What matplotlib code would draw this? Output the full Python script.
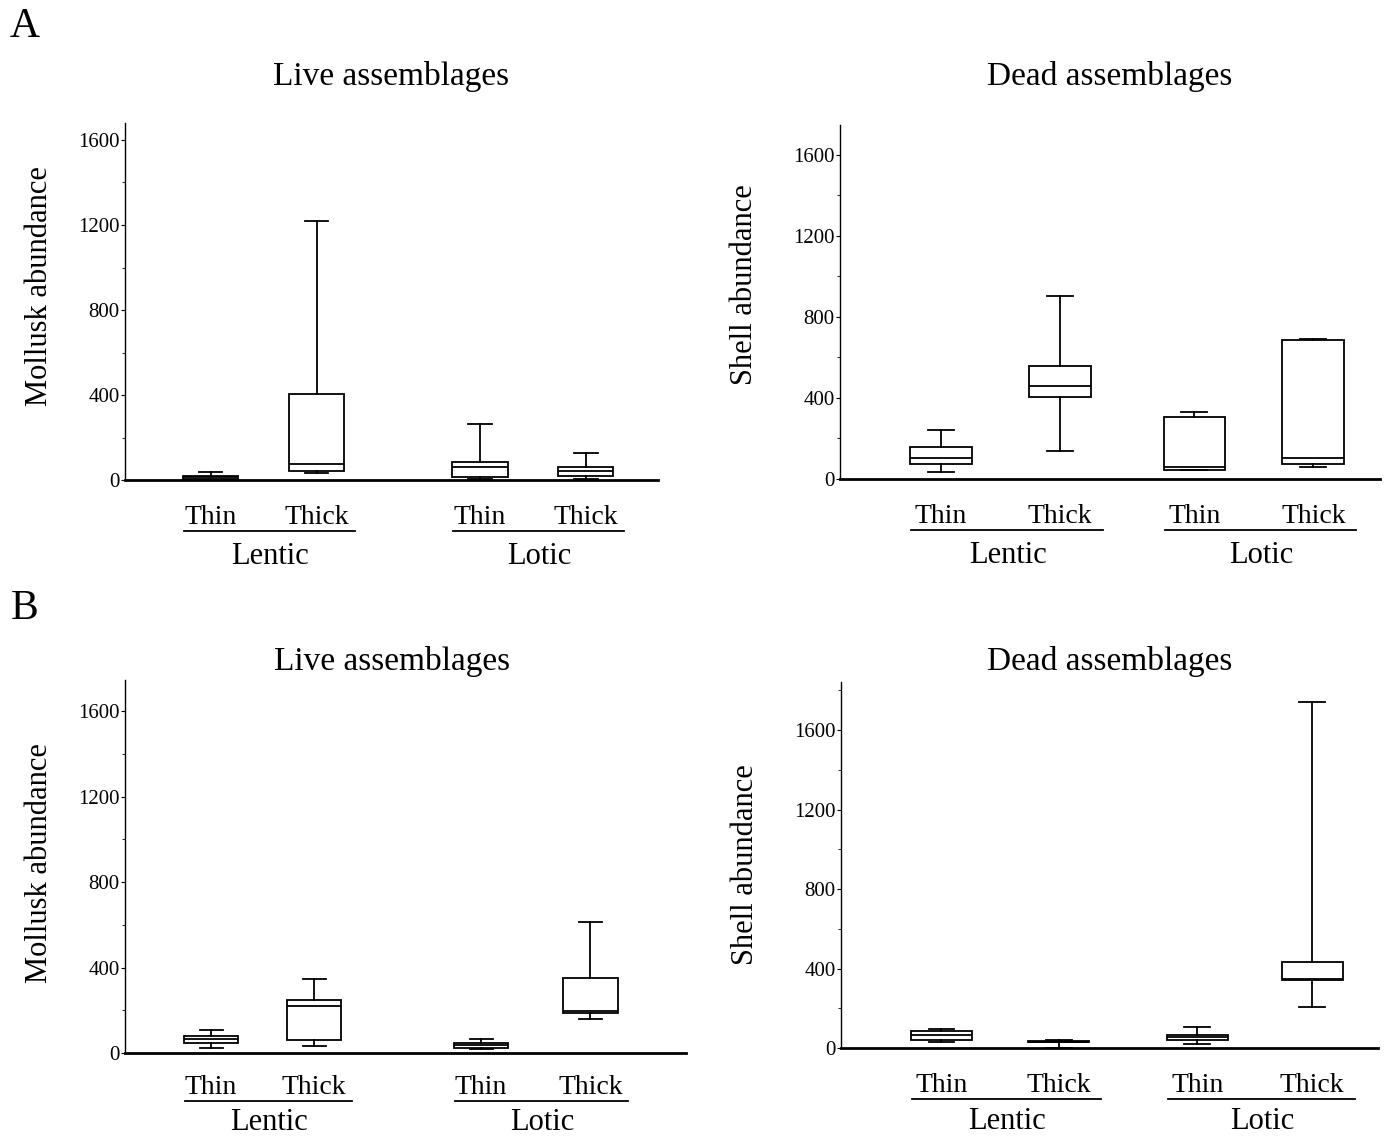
import matplotlib
matplotlib.use('Agg')
import matplotlib.pyplot as plt
from matplotlib.ticker import MultipleLocator
from matplotlib.transforms import ScaledTranslation

plt.rcParams['font.family'] = ['Liberation Serif', 'DejaVu Serif']

# box stats per group: (whisker low, q1, median, q3, whisker high)
groups = ['Thin', 'Thick', 'Thin', 'Thick']
habitats = ['Lentic', 'Lotic']

live_A = [(2, 6, 12, 20, 38), (31, 41, 75, 405, 1219), (7, 12, 60, 85, 264), (7, 21, 42, 60, 129)]
dead_A = [(36, 74, 105, 160, 242), (140, 407, 459, 558, 904), (44, 46, 58, 308, 330), (59, 74, 102, 686, 690)]
live_B = [(25, 45, 64, 80, 108), (31, 61, 219, 250, 347), (17, 25, 38, 47, 64), (157, 188, 197, 349, 614)]
dead_B = [(30, 42, 67, 85, 95), (2, 28, 32, 36, 38), (20, 42, 53, 63, 107), (206, 340, 345, 432, 1742)]

W, H = 1392, 1140
fig = plt.figure(figsize=(W / 100, H / 100), dpi=100)


def add_axes(x0, y0, x1, y1):
    # pixel box -> figure fraction
    return fig.add_axes([x0 / W, 1 - y1 / H, (x1 - x0) / W, (y1 - y0) / H])


# data, title, ylabel, pixel box, positions, xlim, ytop, title (x, y), ylabel coords, label offsets (pt)
panels = [
    (live_A, 'Live assemblages', 'Mollusk abundance', (125, 123, 658, 480),
     [1, 2, 3.54, 4.54], (0.19, 5.22), 1680, (0.5, 1.106), (-0.16, 0.543), (-27, -55)),
    (dead_A, 'Dead assemblages', 'Shell abundance', (840, 125, 1380, 479),
     [1, 2, 3.13, 4.13], (0.15, 4.69), 1748, (0.5, 1.113), (-0.176, 0.548), (-27, -55)),
    (live_B, 'Live assemblages', 'Mollusk abundance', (125, 680, 686, 1053),
     [1, 1.98, 3.57, 4.61], (0.18, 5.52), 1747, (0.476, 1.027), (-0.152, 0.509), (-25, -50)),
    (dead_B, 'Dead assemblages', 'Shell abundance', (841, 682, 1378, 1048),
     [1, 2, 3.18, 4.16], (0.145, 4.72), 1842, (0.5, 1.032), (-0.178, 0.50), (-27, -53)),
]

line = dict(color='black', linewidth=1.3)

for data, title, ylab, box, pos, xlim, ytop, txy, ylxy, offs in panels:
    ax = add_axes(*box)
    stats = [dict(whislo=d[0], q1=d[1], med=d[2], q3=d[3], whishi=d[4], fliers=[])
             for d in data]
    w = 0.52
    ax.bxp(stats, positions=pos, widths=w, capwidths=w * 0.42, showfliers=False,
           patch_artist=True,
           boxprops=dict(facecolor='white', edgecolor='black', linewidth=1.3),
           medianprops=line, whiskerprops=line, capprops=line)

    ax.set_xlim(*xlim)
    ax.set_ylim(0, ytop)
    ax.spines['top'].set_visible(False)
    ax.spines['right'].set_visible(False)
    ax.spines['left'].set_linewidth(1.0)
    ax.spines['bottom'].set_linewidth(2.0)
    ax.set_xticks([])
    ax.yaxis.set_major_locator(MultipleLocator(400))
    ax.yaxis.set_minor_locator(MultipleLocator(200))
    ax.tick_params(axis='y', which='major', length=3, width=0.8, pad=1, labelsize=15)
    ax.tick_params(axis='y', which='minor', length=2, width=0.6)

    ax.set_ylabel(ylab, fontsize=22)
    ax.yaxis.set_label_coords(*ylxy)
    ax.yaxis.label.set_va('center')
    ax.set_title(title, fontsize=24, x=txy[0], y=txy[1], pad=0)

    xt = ax.get_xaxis_transform()
    for p, g in zip(pos, groups):
        ax.annotate(g, xy=(p, 0), xycoords=xt, xytext=(0, offs[0]), textcoords='offset points',
                    ha='center', va='center', fontsize=20)
    under = xt + ScaledTranslation(0, (offs[0] - 9.5) / 72, fig.dpi_scale_trans)
    for k, hab in enumerate(habitats):
        a, b = pos[2 * k], pos[2 * k + 1]
        ax.plot([a - 0.25, b + 0.36], [0, 0], color='black', lw=1.3,
                transform=under, clip_on=False)
        ax.annotate(hab, xy=((a + b) / 2 + 0.06, 0), xycoords=xt, xytext=(0, offs[1]),
                    textcoords='offset points', ha='center', va='center', fontsize=22)

fig.text(25 / W, 1 - 27 / H, 'A', fontsize=30, ha='center', va='center')
fig.text(25 / W, 1 - 609 / H, 'B', fontsize=30, ha='center', va='center')

fig.savefig('out.png', dpi=100)
